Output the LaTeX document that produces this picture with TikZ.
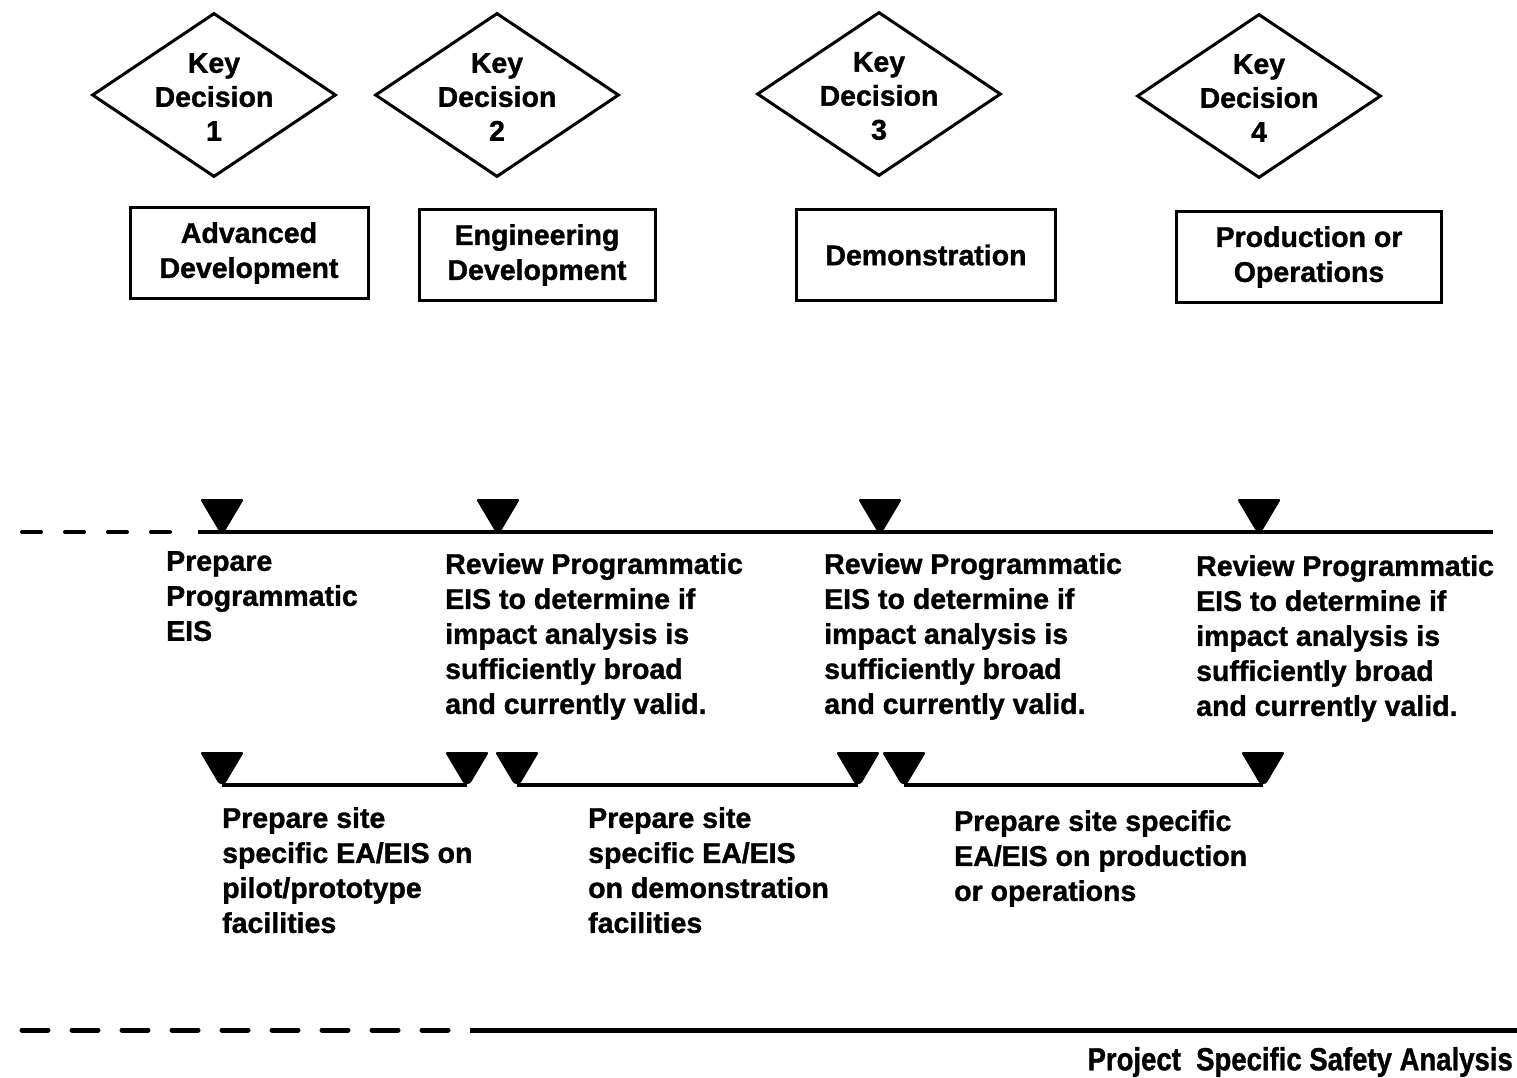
\documentclass[tikz,border=0pt]{standalone}
\usepackage{fontspec}
\usepackage{graphicx}
\setmainfont{Liberation Sans}[BoldFeatures={FakeBold=1.2}]
\usetikzlibrary{shapes.geometric}
\begin{document}
\begin{tikzpicture}[x=1pt,y=-1pt,
  bodyfont/.style={font=\bfseries\fontsize{28.5}{35}\selectfont},
  txt/.style={bodyfont, inner sep=0pt, align=left, anchor=north west},
  decision/.style={draw, diamond, line width=3pt, line join=miter,
                   minimum width=244pt, minimum height=164pt, inner sep=0pt},
  dectext/.style={font=\bfseries\fontsize{28.5}{34}\selectfont, inner sep=0pt, align=center},
  phase/.style={draw, line width=3pt, minimum height=91pt, inner sep=0pt,
                bodyfont, align=center},
  track/.style={line width=4pt},
  trackdash/.style={line width=4pt, line cap=round, dash pattern=on 19pt off 24pt},
  basedash/.style={line width=5pt, line cap=round, dash pattern=on 26pt off 24pt},
  milestone/.pic={\fill[rounded corners=2.5pt] (-22,-33) -- (22,-33) -- (3,-1) -- (-3,-1) -- cycle;}
]
\useasboundingbox (0,0) rectangle (1517,1077);

% key decisions
\node[decision] (kd1) at (214,95) {};
\node[decision] (kd2) at (497,95) {};
\node[decision] (kd3) at (879,94) {};
\node[decision] (kd4) at (1259,96) {};
\node[dectext] (kd1t) at ([yshift=-2pt]kd1.center) {Key\\Decision\\1};
\node[dectext] (kd2t) at ([yshift=-2pt]kd2.center) {Key\\Decision\\2};
\node[dectext] (kd3t) at ([yshift=-2pt]kd3.center) {Key\\Decision\\3};
\node[dectext] (kd4t) at ([yshift=-2pt]kd4.center) {Key\\Decision\\4};

% phases
\node[phase, minimum width=238pt] (ph1) at (249,253) {Advanced\\Development};
\node[phase, minimum width=236pt] (ph2) at (537,255) {Engineering\\Development};
\node[phase, minimum width=259pt] (ph3) at (926,255) {Demonstration};
\node[phase, minimum width=265pt] (ph4) at (1309,257) {Production or\\Operations};

% programmatic EIS track
\coordinate (t0) at (22,532);
\coordinate (t1) at (180,532);
\coordinate (t2) at (198,532);
\coordinate (t3) at (1493,532);
\draw[trackdash] (t0) -- (t1);
\draw[track] (t2) -- (t3);
\coordinate (m1) at (222,532);
\coordinate (m2) at (498,532);
\coordinate (m3) at (880,532);
\coordinate (m4) at (1259,532);
\foreach \m in {m1,m2,m3,m4} \pic at (\m) {milestone};

\node[txt] (p1) at (166,551) {Prepare\\Programmatic\\EIS};
\node[txt] (p2) at (445,553) {Review Programmatic\\EIS to determine if\\impact analysis is\\sufficiently broad\\and currently valid.};
\node[txt] (p3) at (824,553) {Review Programmatic\\EIS to determine if\\impact analysis is\\sufficiently broad\\and currently valid.};
\node[txt] (p4) at (1196,555) {Review Programmatic\\EIS to determine if\\impact analysis is\\sufficiently broad\\and currently valid.};

% site specific EA/EIS spans
\coordinate (a1) at (222,785);
\coordinate (b1) at (467,785);
\coordinate (a2) at (517,785);
\coordinate (b2) at (858,785);
\coordinate (a3) at (904,785);
\coordinate (b3) at (1263,785);
\foreach \m in {a1,b1,a2,b2,a3,b3} \pic at (\m) {milestone};
\draw[track] (a1) -- (b1);
\draw[track] (a2) -- (b2);
\draw[track] (a3) -- (b3);

\node[txt] (s1) at (222,807) {Prepare site\\specific EA/EIS on\\pilot/prototype\\facilities};
\node[txt] (s2) at (588,807) {Prepare site\\specific EA/EIS\\on demonstration\\facilities};
\node[txt] (s3) at (954,810) {Prepare site specific\\EA/EIS on production\\or operations};

% project specific track
\coordinate (u0) at (22,1030);
\coordinate (u1) at (450,1030);
\coordinate (u2) at (470,1030);
\coordinate (u3) at (1517,1030);
\draw[basedash] (u0) -- (u1);
\draw[line width=5pt] (u2) -- (u3);
\node[font=\bfseries\fontsize{32}{36}\selectfont, inner sep=0pt, anchor=east] (cap) at (1513,1062)
  {\scalebox{0.86}[1]{Project\ \ Specific Safety Analysis}};
\end{tikzpicture}
\end{document}
